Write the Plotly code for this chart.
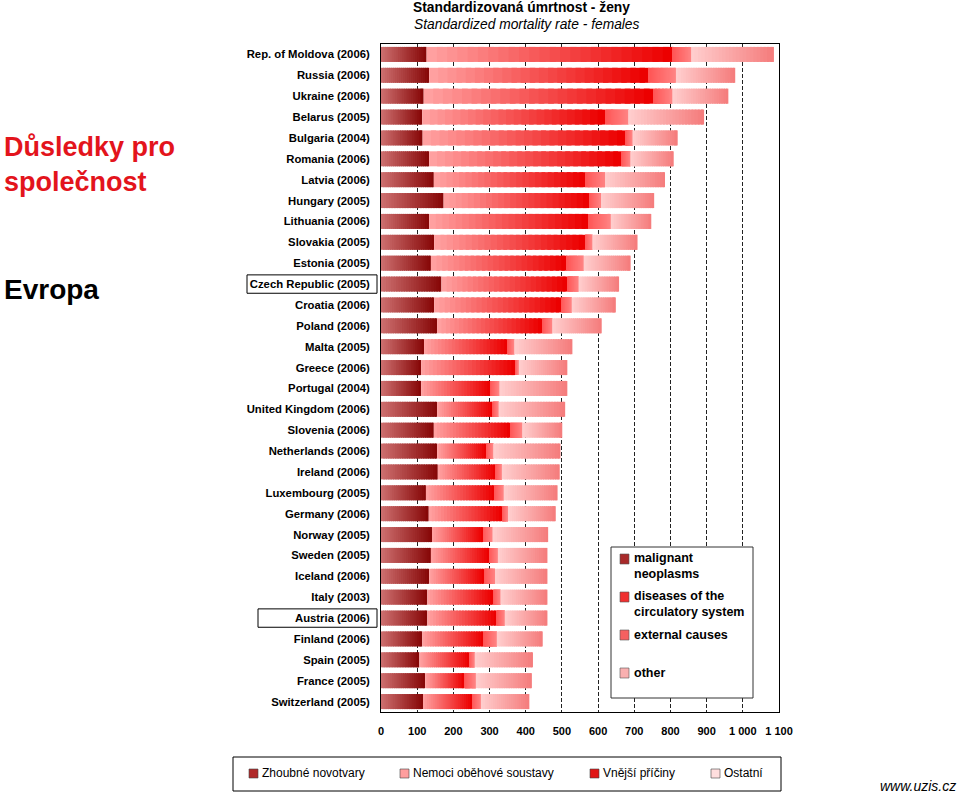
import plotly.graph_objects as go

countries = ["Rep. of Moldova (2006)", "Russia (2006)", "Ukraine (2006)", "Belarus (2005)",
             "Bulgaria (2004)", "Romania (2006)", "Latvia (2006)", "Hungary (2005)",
             "Lithuania (2006)", "Slovakia (2005)", "Estonia (2005)", "Czech Republic (2005)",
             "Croatia (2006)", "Poland (2006)", "Malta (2005)", "Greece (2006)",
             "Portugal (2004)", "United Kingdom (2006)", "Slovenia (2006)", "Netherlands (2006)",
             "Ireland (2006)", "Luxembourg (2005)", "Germany (2006)", "Norway (2005)",
             "Sweden (2005)", "Iceland (2006)", "Italy (2003)", "Austria (2006)",
             "Finland (2006)", "Spain (2005)", "France (2005)", "Switzerland (2005)"]
neoplasms   = [126, 133, 118, 114, 115, 133, 146, 173, 133, 147, 138, 167, 147, 155, 119, 111,
               111, 155, 146, 155, 157, 124, 132, 141, 138, 133, 128, 128, 114, 106, 122, 116]
circulatory = [681, 607, 635, 506, 561, 531, 420, 402, 440, 417, 376, 349, 351, 291, 231, 260,
               191, 154, 211, 136, 160, 190, 203, 141, 161, 152, 182, 192, 170, 138, 109, 136]
external    = [50, 75, 52, 63, 19, 25, 53, 33, 62, 20, 46, 30, 29, 27, 18, 10,
               25, 16, 33, 19, 17, 25, 16, 26, 24, 30, 20, 22, 36, 15, 31, 24]
other       = [229, 164, 155, 210, 125, 120, 166, 147, 112, 125, 130, 112, 122, 137, 161, 134,
               188, 184, 111, 186, 160, 149, 132, 154, 137, 145, 130, 118, 127, 161, 155, 134]
x_tickvals = [0, 100, 200, 300, 400, 500, 600, 700, 800, 900, 1000, 1100]
x_ticktext = ["0", "100", "200", "300", "400", "500", "600", "700", "800", "900", "1 000", "1 100"]

# gradient colour pairs (left -> right) for each component
grad = [((204, 110, 110), (135, 8, 8)),
        ((255, 160, 160), (236, 0, 0)),
        ((255, 85, 85), (255, 130, 130)),
        ((255, 205, 205), (245, 125, 125))]
series = [neoplasms, circulatory, external, other]

FONT = "Arial, Liberation Sans, sans-serif"
L, R, T, B = 381, 779, 44, 712


def px(x):
    return (x - L) / (R - L)


def py(y):
    return (B - y) / (B - T)


fig = go.Figure()
N = 24
starts = [0] * len(countries)
for k, vals in enumerate(series):
    c0, c1 = grad[k]
    for j in range(N):
        t = j / (N - 1)
        col = "rgb(%d,%d,%d)" % tuple(round(c0[i] + (c1[i] - c0[i]) * t) for i in range(3))
        bases = [s + v * j / N for s, v in zip(starts, vals)]
        stretch = 1.6 if j < N - 1 else 1.0
        widths = [v / N * stretch for v in vals]
        fig.add_trace(go.Bar(y=countries, x=widths, base=bases, orientation="h",
                             marker=dict(color=col, line=dict(width=0)),
                             width=0.72, showlegend=False, hoverinfo="skip"))
    starts = [s + v for s, v in zip(starts, vals)]

fig.update_layout(
    width=960, height=794, margin=dict(l=L, r=960 - R, t=T, b=794 - B),
    paper_bgcolor="white", plot_bgcolor="white", barmode="overlay",
    font=dict(family=FONT, color="black"),
    xaxis=dict(range=[0, 1100], tickvals=x_tickvals, ticktext=x_ticktext,
               showgrid=True, gridcolor="#222", griddash="4px,2px", gridwidth=1,
               showline=True, mirror=True, linecolor="black", linewidth=1,
               zeroline=False, ticks="", ticklabelstandoff=9,
               tickfont=dict(size=11, family=FONT, weight="bold")),
    yaxis=dict(categoryorder="array", categoryarray=countries, autorange="reversed",
               range=[31.5, -0.5], showgrid=False, showline=True, mirror=True,
               linecolor="black", linewidth=1, ticks="", ticklabelstandoff=8,
               tickfont=dict(size=11.3, family=FONT, weight="bold")),
)

ann = []
shapes = []
# titles
ann.append(dict(text="<b>Standardizovaná úmrtnost - ženy</b>", x=px(521), y=py(8),
                font=dict(size=13.8)))
ann.append(dict(text="<i>Standardized mortality rate - females</i>", x=px(527), y=py(24),
                font=dict(size=13.8)))
# left texts
ann.append(dict(text="<b>Důsledky pro<br>společnost</b>", x=px(2), y=py(164), xanchor="left",
                align="left", font=dict(size=27, color="#e3141c")))
ann.append(dict(text="<b>Evropa</b>", x=px(2), y=py(289), xanchor="left",
                font=dict(size=28, color="black")))
# boxes around highlighted countries
for name, x0 in [("Czech Republic (2005)", 247), ("Austria (2006)", 258)]:
    idx = countries.index(name)
    shapes.append(dict(type="rect", xref="paper", yref="y", x0=px(x0), x1=px(377),
                       y0=idx - 0.44, y1=idx + 0.44, line=dict(color="black", width=1)))

# in-plot legend
shapes.append(dict(type="rect", xref="paper", yref="paper", x0=px(611), x1=px(753),
                   y0=py(698), y1=py(547), line=dict(color="#333", width=1),
                   fillcolor="white", layer="above"))
leg_items = [("malignant<br>neoplasms", 559, 566, "#a82a2a"),
             ("diseases of the<br>circulatory system", 597, 604, "#f03030"),
             ("external causes", 635, 635, "#f56060"),
             ("other", 673, 673, "#f9b0b0")]
for txt, sy, ty, col in leg_items:
    shapes.append(dict(type="rect", xref="paper", yref="paper", x0=px(620), x1=px(629),
                       y0=py(sy + 5), y1=py(sy - 5), fillcolor=col,
                       line=dict(color="#555", width=0.6), layer="above"))
    ann.append(dict(text="<b>%s</b>" % txt, x=px(632), y=py(ty), xanchor="left", align="left",
                    font=dict(size=12.5)))

# bottom legend
shapes.append(dict(type="rect", xref="paper", yref="paper", x0=px(233), x1=px(781),
                   y0=py(791), y1=py(757), line=dict(color="black", width=1)))
bot_items = [("Zhoubné novotvary", 249, "#b02a2a"),
             ("Nemoci oběhové soustavy", 400, "#ff9e9e"),
             ("Vnější příčiny", 590, "#e01515"),
             ("Ostatní", 711, "#ffdede")]
for txt, sx, col in bot_items:
    shapes.append(dict(type="rect", xref="paper", yref="paper", x0=px(sx), x1=px(sx + 9),
                       y0=py(778), y1=py(769), fillcolor=col,
                       line=dict(color="#444", width=0.6)))
    ann.append(dict(text=txt, x=px(sx + 11), y=py(773), xanchor="left",
                    font=dict(size=12, family="Liberation Sans Narrow, Arial Narrow, Arial")))

ann.append(dict(text="<i>www.uzis.cz</i>", x=px(958), y=py(786), xanchor="right",
                font=dict(size=14)))

for a in ann:
    a.setdefault("xref", "paper")
    a.setdefault("yref", "paper")
    a.setdefault("showarrow", False)
    a.setdefault("yanchor", "middle")
    a.setdefault("xanchor", "center")
fig.update_layout(annotations=ann, shapes=shapes)

fig.write_html("out.html", config={"displayModeBar": False},
               post_script="document.body.style.margin='0';document.body.style.padding='0';"
                           "document.body.style.overflow='hidden';")
